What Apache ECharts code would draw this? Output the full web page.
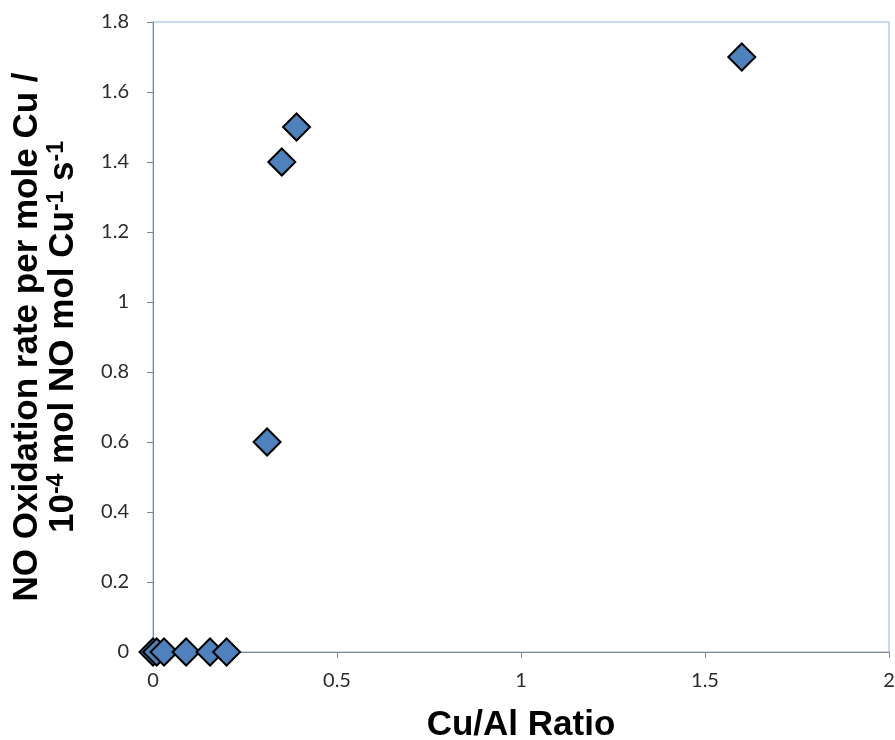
<!DOCTYPE html>
<html>
<head>
<meta charset="utf-8">
<script src="https://cdn.jsdelivr.net/npm/echarts@6/dist/echarts.min.js"></script>
<style>
  html, body { margin: 0; padding: 0; background: #fff; }
  #chart { width: 895px; height: 740px; }
</style>
</head>
<body>
<div id="chart"></div>
<script>
// Cu/Al ratio of each catalyst and its NO oxidation rate per mole Cu
const cuAlRatio = [0.0, 0.01, 0.03, 0.09, 0.155, 0.2, 0.31, 0.35, 0.39, 1.6];
const noRate    = [0, 0, 0, 0, 0, 0, 0.6, 1.4, 1.5, 1.7];

const xTicks = { min: 0, max: 2, interval: 0.5 };
const yTicks = { min: 0, max: 1.8, interval: 0.2 };

const points = cuAlRatio.map((x, i) => [x, noRate[i]]);

const chart = echarts.init(document.getElementById('chart'), null, { renderer: 'canvas' });

const tickLabel = { fontFamily: 'Lato', fontSize: 20, color: '#2b2b2b' };
const titleFont = { fontFamily: 'Liberation Sans', fontWeight: 'bold', fontSize: 35, color: '#000' };

chart.setOption({
  animation: false,
  backgroundColor: '#ffffff',
  grid: {
    left: 153, right: 6, top: 22, bottom: 88,
    outerBoundsMode: 'none',
    containLabel: false,
    show: true, borderColor: '#8eb4e3', borderWidth: 1, backgroundColor: 'transparent'
  },
  xAxis: {
    type: 'value',
    min: xTicks.min, max: xTicks.max, interval: xTicks.interval,
    splitLine: { show: false },
    axisLine: { show: true, onZero: false, lineStyle: { color: '#868686', width: 1 } },
    axisTick: { show: true, inside: false, length: 6, lineStyle: { color: '#868686' } },
    axisLabel: Object.assign({ margin: 19 }, tickLabel),
    name: 'Cu/Al Ratio',
    nameLocation: 'middle',
    nameGap: 56,
    nameTextStyle: Object.assign({ verticalAlign: 'top' }, titleFont)
  },
  yAxis: {
    type: 'value',
    min: yTicks.min, max: yTicks.max, interval: yTicks.interval,
    splitLine: { show: false },
    axisLine: { show: true, onZero: false, lineStyle: { color: '#868686', width: 1 } },
    axisTick: { show: true, inside: false, length: 6, lineStyle: { color: '#868686' } },
    axisLabel: Object.assign({ margin: 24 }, tickLabel),
    name: '{t|NO Oxidation rate per mole Cu /}\n{t|10}{s|-4}{t| mol NO mol Cu}{s|-1}{t| s}{s|-1}',
    nameLocation: 'middle',
    nameRotate: 90,
    nameGap: 72,
    nameTextStyle: Object.assign({}, titleFont, {
      lineHeight: 36,
      rich: {
        t: Object.assign({ lineHeight: 36 }, titleFont),
        s: Object.assign({}, titleFont, { fontSize: 23, verticalAlign: 'top', lineHeight: 36, padding: [0, 0, 12, 0] })
      }
    })
  },
  series: [{
    type: 'scatter',
    data: points,
    symbol: 'diamond',
    symbolSize: [27, 27],
    itemStyle: { color: '#4f81bd', borderColor: '#000000', borderWidth: 2, opacity: 1 },
    z: 5
  }]
});
</script>
</body>
</html>
